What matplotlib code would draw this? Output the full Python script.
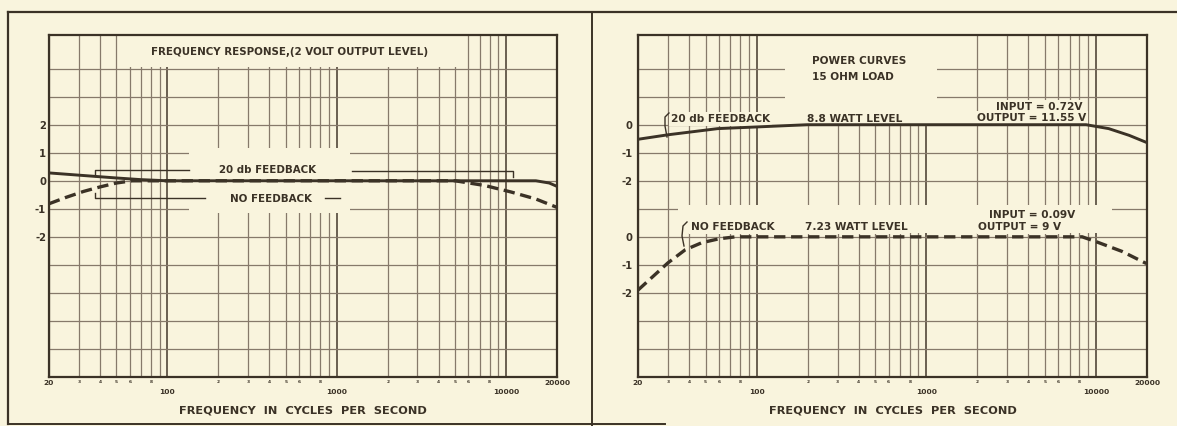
import matplotlib
matplotlib.use('Agg')
import matplotlib.pyplot as plt
from matplotlib.patches import Rectangle

W, H = 1177, 426
paper = '#f9f4dd'
ink = '#3b3226'
grid_c = '#86796a'

# --- left chart: frequency response (2 volt output), dB
fb_freq = [20, 30, 50, 70, 100, 1000, 10000, 15000, 18000, 20000]
fb_db = [0.28, 0.2, 0.1, 0.04, 0.0, 0.0, 0.0, 0.0, -0.08, -0.2]
nofb_freq = [20, 25, 32, 40, 50, 62, 80, 1000, 5000, 7500, 10700, 15000, 20000]
nofb_db = [-0.82, -0.6, -0.38, -0.22, -0.08, 0.0, 0.0, 0.0, 0.0, -0.17, -0.4, -0.65, -0.95]

# --- right chart: power curves, 15 ohm load, dB
pw_fb_freq = [20, 30, 59, 100, 200, 1000, 8750, 11900, 15700, 20000]
pw_fb_db = [-0.52, -0.36, -0.14, -0.08, 0.0, 0.0, 0.0, -0.14, -0.38, -0.64]
pw_nofb_freq = [20, 30, 38, 47.5, 60, 75, 1000, 8300, 10000, 14250, 19500, 20000]
pw_nofb_db = [-1.9, -0.93, -0.46, -0.21, -0.07, 0.0, 0.0, 0.0, -0.17, -0.52, -0.93, -0.95]
pw_fb_offset = 9     # where the upper 0 db sits on the right grid
pw_nofb_offset = 5   # where the lower 0 db sits

left_yticks = [-2, -1, 0, 1, 2]
left_ylabels = ['-2', '-1', '0', '1', '2']
right_yticks = [3, 4, 5, 7, 8, 9]
right_ylabels = ['-2', '-1', '0', '-2', '-1', '0']

decades = [100, 1000, 10000]
decade_labels = ['100', '1000', '10000']
small_f = [20, 30, 40, 50, 60, 80, 200, 300, 400, 500, 600, 800,
           2000, 3000, 4000, 5000, 6000, 8000, 20000]
small_labels = ['20', '3', '4', '5', '6', '8', '2', '3', '4', '5', '6', '8',
                '2', '3', '4', '5', '6', '8', '20000']

plt.rcParams['font.family'] = ['DejaVu Sans']
plt.rcParams['font.weight'] = 'bold'

fig = plt.figure(figsize=(W / 100, H / 100), dpi=100, facecolor=paper)
bg = fig.add_axes([0, 0, 1, 1], zorder=0)
bg.set_xlim(0, W)
bg.set_ylim(H, 0)
bg.axis('off')
px = bg.transData

# outer frames
bg.plot([8, W], [12, 12], color=ink, lw=1.6)
bg.plot([8, 8], [12, 424], color=ink, lw=1.6)
bg.plot([592, 592], [12, H], color=ink, lw=1.4)
bg.plot([8, 665], [424, 424], color=ink, lw=1.4)


def make_axes(x0, x1, y0, y1):
    return fig.add_axes([x0 / W, (H - y1) / H, (x1 - x0) / W, (y1 - y0) / H], zorder=1)


def setup(ax, ylim, rows, yticks, ylabels, ypad):
    ax.set_facecolor(paper)
    ax.set_xscale('log')
    ax.set_xlim(20, 20000)
    ax.set_ylim(*ylim)
    grid_f = [m * d for d in (10, 100, 1000) for m in range(2, 10)]
    ax.vlines(grid_f, ylim[0], ylim[1], color=grid_c, lw=0.9, zorder=1)
    ax.vlines(decades, ylim[0], ylim[1], color='#5e5446', lw=1.3, zorder=1)
    ax.hlines(rows, 20, 20000, color=grid_c, lw=0.9, zorder=1)
    for s in ax.spines.values():
        s.set_color(ink)
        s.set_linewidth(1.6)
        s.set_zorder(6)
    ax.set_xticks(decades, decade_labels, fontsize=5.4, fontweight='bold', color=ink)
    ax.set_xticks(small_f, small_labels, minor=True, fontsize=3.2, color=ink)
    for lbl in ax.get_xticklabels(minor=True):
        if lbl.get_text() in ('20', '20000'):
            lbl.set_fontsize(5.4)
            lbl.set_fontweight('bold')
    ax.tick_params(axis='x', which='major', length=0, pad=8.5)
    ax.tick_params(axis='x', which='minor', length=0, pad=2.2)
    ax.set_yticks(yticks, ylabels, fontsize=7.2, fontweight='bold', color=ink)
    ax.tick_params(axis='y', length=0, pad=ypad)
    ax.set_xlabel('FREQUENCY  IN  CYCLES  PER  SECOND', fontsize=8.2,
                  fontweight='bold', color=ink, labelpad=8)


def mask(ax, x0, y0, x1, y1):
    ax.add_artist(Rectangle((x0, y0), x1 - x0, y1 - y0, transform=px,
                            facecolor=paper, edgecolor='none', zorder=2))


def label(ax, x, y, s, ha='left', size=7.2):
    ax.text(x, y, s, transform=px, ha=ha, va='center', fontsize=size,
            fontweight='bold', color=ink, zorder=4,
            bbox=dict(boxstyle='square,pad=0.15', fc=paper, ec='none'))


def mark(ax, xs, ys, lw=1.0):
    ax.plot(xs, ys, transform=px, color=ink, lw=lw, zorder=4)


# ---------------- left chart
axL = make_axes(49, 557, 35, 377)
setup(axL, (-7, 5.2), list(range(-6, 5)), left_yticks, left_ylabels, 2)
mask(axL, 122, 36, 460, 67)
mask(axL, 189, 148, 350, 213)
axL.plot(nofb_freq, nofb_db, color=ink, lw=2.4, ls=(0, (3.4, 1.7)), zorder=5)
axL.plot(fb_freq, fb_db, color=ink, lw=2.1, zorder=5)
label(axL, 290, 52, 'FREQUENCY RESPONSE,(2 VOLT OUTPUT LEVEL)', ha='center', size=7.4)
label(axL, 268, 170, '20 db FEEDBACK', ha='center', size=7.4)
label(axL, 271, 199, 'NO FEEDBACK', ha='center', size=7.4)
mark(axL, [95, 95, 189], [176, 170, 170])
mark(axL, [352, 513, 513], [171, 171, 177])
mark(axL, [95, 95, 205], [193, 198, 198])
mark(axL, [325, 340], [198, 198])

# ---------------- right chart
axR = make_axes(638, 1147, 35, 377)
setup(axR, (0, 12.2), list(range(1, 12)), right_yticks, right_ylabels, 4)
mask(axR, 785, 36, 937, 124)
mask(axR, 678, 205, 1112, 233)
axR.plot(pw_nofb_freq, [v + pw_nofb_offset for v in pw_nofb_db],
         color=ink, lw=2.4, ls=(0, (3.4, 1.7)), zorder=5)
axR.plot(pw_fb_freq, [v + pw_fb_offset for v in pw_fb_db], color=ink, lw=2.1, zorder=5)
label(axR, 812, 61, 'POWER CURVES', size=7.6)
label(axR, 812, 77, '15 OHM LOAD', size=7.6)
label(axR, 1039, 107, 'INPUT = 0.72V', ha='center', size=7.6)
label(axR, 1032, 118, 'OUTPUT = 11.55 V', ha='center', size=7.6)
label(axR, 671, 119, '20 db FEEDBACK', size=7.6)
label(axR, 807, 119, '8.8 WATT LEVEL', size=7.6)
label(axR, 1032, 215, 'INPUT = 0.09V', ha='center', size=7.6)
label(axR, 691, 227, 'NO FEEDBACK', size=7.6)
label(axR, 805, 227, '7.23 WATT LEVEL', size=7.6)
label(axR, 1020, 227, 'OUTPUT = 9 V', ha='center', size=7.6)
mark(axR, [669, 665, 665, 667], [113, 117, 126, 137])
mark(axR, [687, 683, 682, 684], [222, 226, 236, 246])

fig.savefig('out.png', dpi=100, facecolor=paper)
